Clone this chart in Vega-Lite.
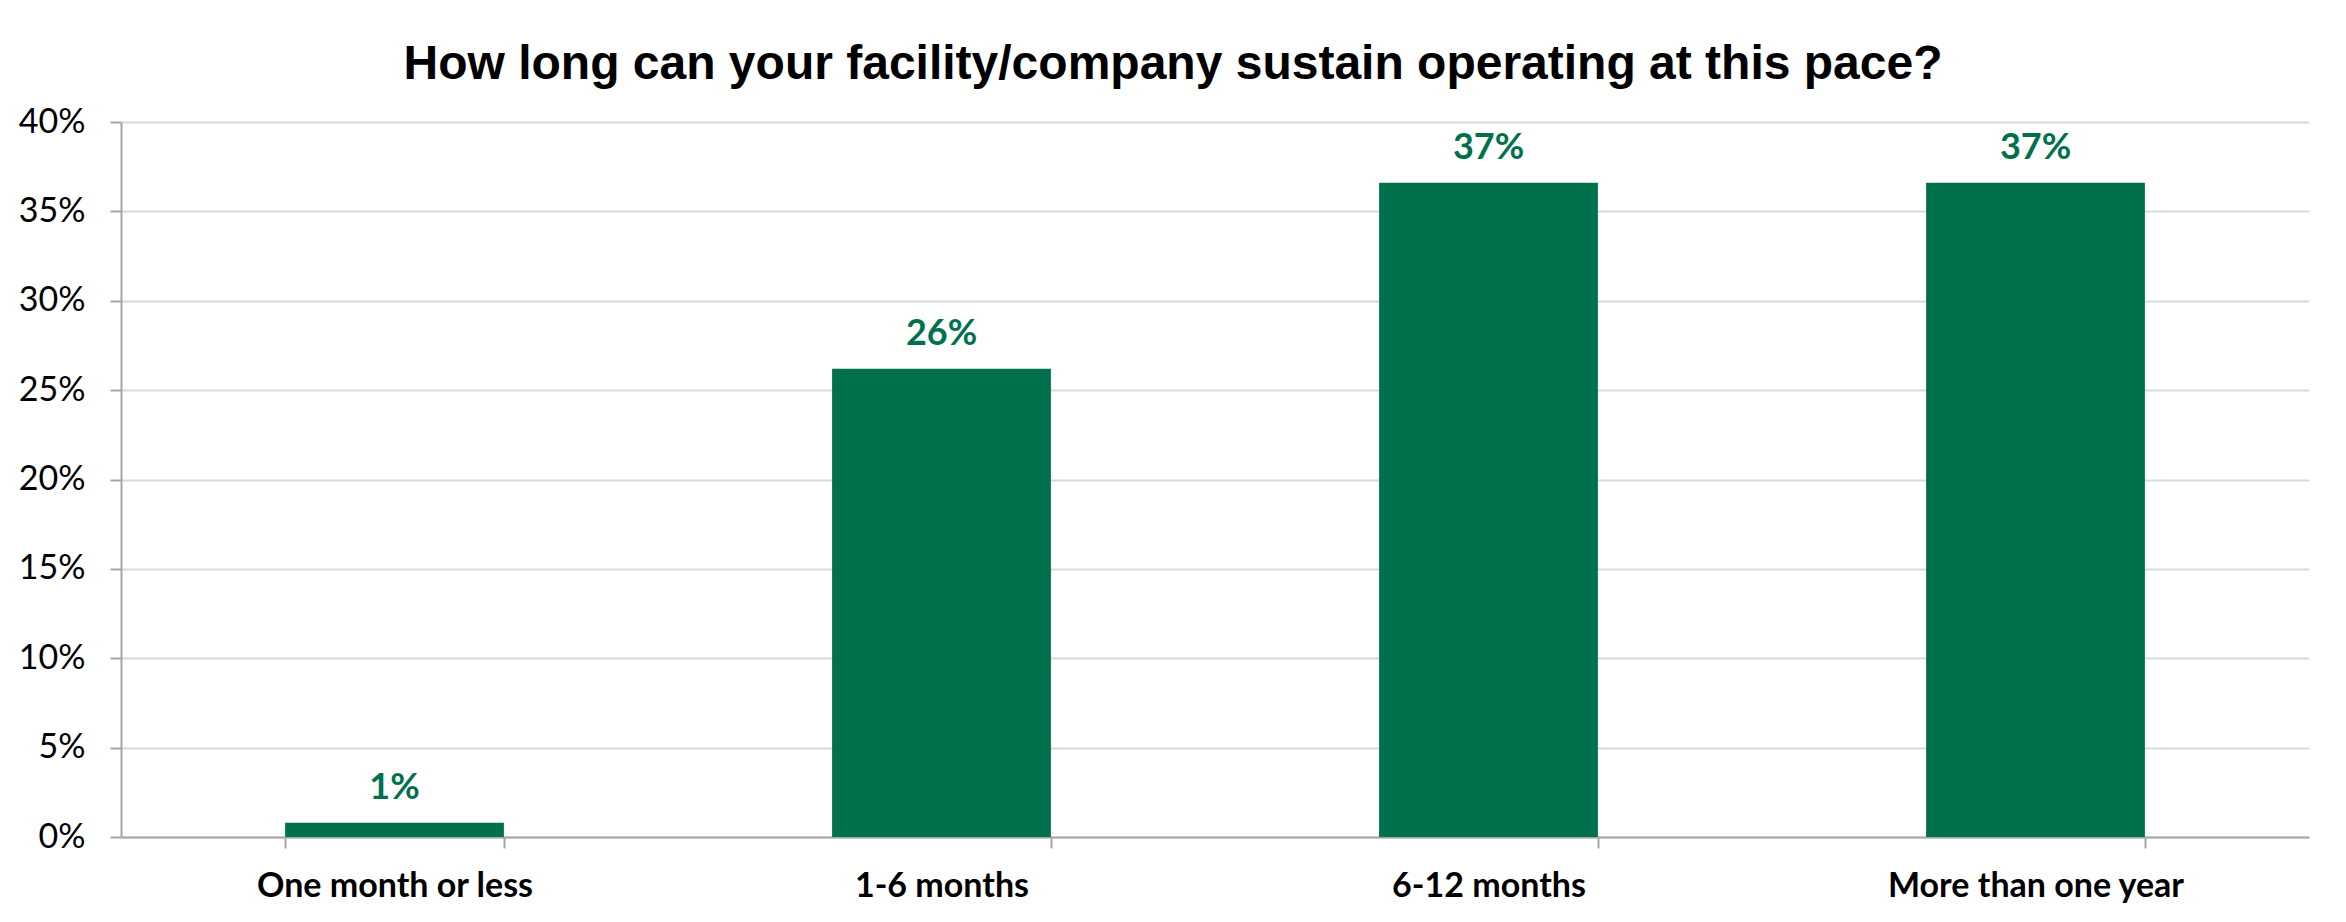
{
  "$schema": "https://vega.github.io/schema/vega-lite/v6.json",
  "width": 2188,
  "height": 715,
  "autosize": {"type": "none"},
  "padding": {"left": 121, "top": 122, "right": 37, "bottom": 85},
  "background": "white",
  "title": {
    "text": "How long can your facility/company sustain operating at this pace?",
    "font": "Liberation Sans",
    "fontSize": 48,
    "fontWeight": "bold",
    "color": "#000000",
    "anchor": "middle",
    "baseline": "alphabetic",
    "offset": -22,
    "dx": -42
  },
  "data": {
    "values": [
      {"category": "One month or less", "share": 0.008},
      {"category": "1-6 months", "share": 0.262},
      {"category": "6-12 months", "share": 0.366},
      {"category": "More than one year", "share": 0.366}
    ]
  },
  "encoding": {
    "x": {
      "field": "category",
      "type": "nominal",
      "sort": null,
      "title": null,
      "scale": {"paddingInner": 0.6, "paddingOuter": 0.3},
      "axis": {
        "labelAngle": 0,
        "labelFont": "Lato",
        "labelFontSize": 34,
        "labelFontWeight": "bold",
        "labelColor": "#000000",
        "labelBaseline": "alphabetic",
        "labelPadding": 48,
        "labelLimit": 0,
        "tickBand": "extent",
        "tickSize": 11,
        "tickColor": "#A6A6A6",
        "tickWidth": 2,
        "domainColor": "#A6A6A6",
        "domainWidth": 2,
        "grid": false
      }
    },
    "y": {
      "field": "share",
      "type": "quantitative",
      "title": null,
      "scale": {"domain": [0, 0.4], "nice": false},
      "axis": {
        "values": [0, 0.05, 0.1, 0.15, 0.2, 0.25, 0.3, 0.35, 0.4],
        "format": ".0%",
        "labelFont": "Lato",
        "labelFontSize": 34,
        "labelColor": "#000000",
        "labelPadding": 25,
        "tickSize": 11,
        "tickColor": "#A6A6A6",
        "tickWidth": 2,
        "domainColor": "#A6A6A6",
        "domainWidth": 2,
        "gridColor": "#D9D9D9",
        "gridWidth": 2
      }
    }
  },
  "layer": [
    {"mark": {"type": "bar", "color": "#00714C"}},
    {
      "mark": {
        "type": "text",
        "font": "Lato",
        "fontSize": 36,
        "fontWeight": "bold",
        "color": "#00714C",
        "baseline": "alphabetic",
        "dy": -24
      },
      "encoding": {"text": {"field": "share", "type": "quantitative", "format": ".0%"}}
    }
  ],
  "config": {"view": {"stroke": null}}
}
